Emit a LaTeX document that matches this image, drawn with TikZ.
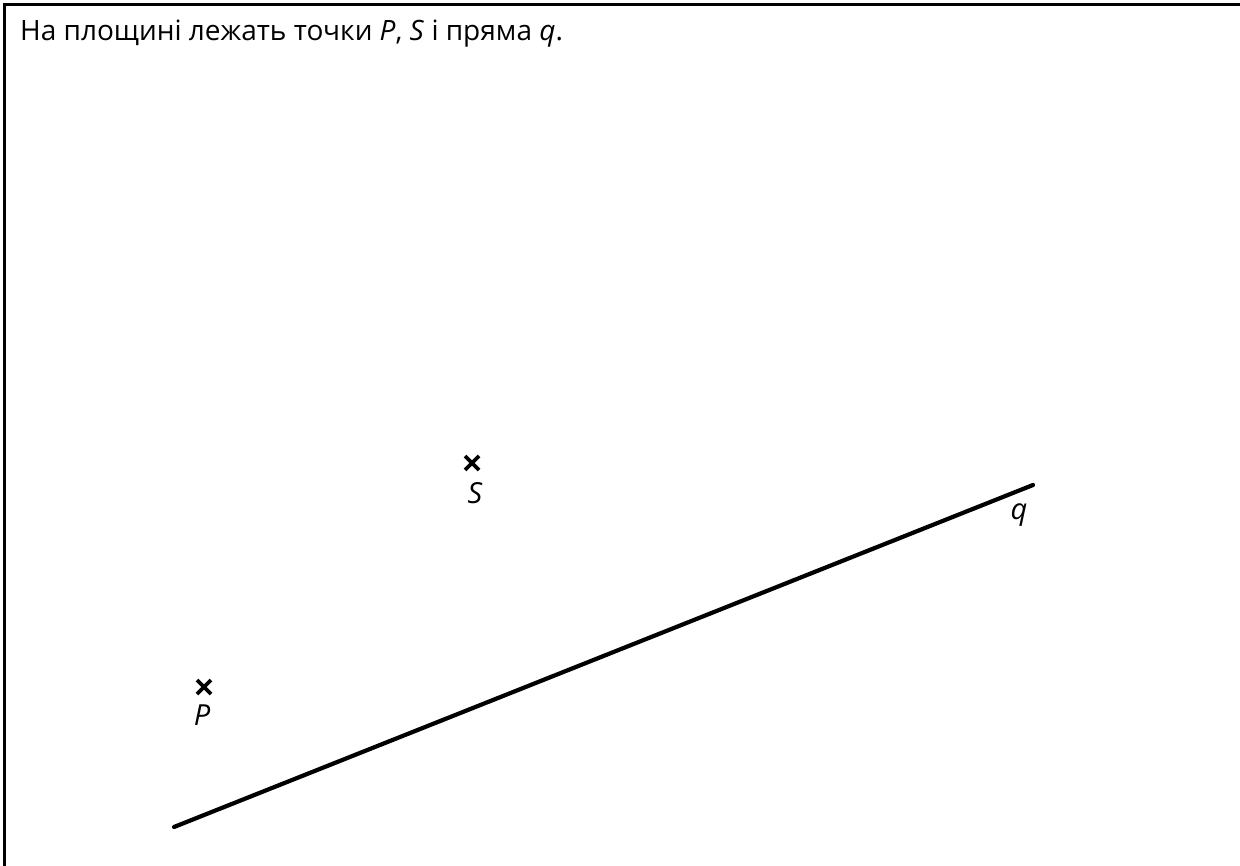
\documentclass[tikz,border=0pt]{standalone}
\usepackage{fontspec}
\setmainfont{Open Sans}
\begin{document}
\begin{tikzpicture}[x=1pt,y=-1pt,
  frame/.style={line width=3.2pt},
  qline/.style={line width=4.2pt,line cap=round},
  crossmark/.style={line width=3.6pt},
  lbl/.style={inner sep=0pt,anchor=base,font=\fontsize{29}{32}\selectfont\itshape},
  title/.style={inner sep=0pt,anchor=base west,font=\fontsize{28}{32}\selectfont}]
\useasboundingbox (0,0) rectangle (1240,866);
\draw[frame] (4.6,866) -- (4.6,4.6) -- (1240,4.6);
\node[title] (t) at (20,41) {На площині лежать точки \textit{P}, \textit{S} і пряма \textit{q}.};
\coordinate (q1) at (174,827);
\coordinate (q2) at (1033,485);
\draw[qline] (q1) -- (q2);
\coordinate (P) at (204,687);
\coordinate (S) at (472,463);
\draw[crossmark] ([shift={(-7,-7)}]P) -- ([shift={(7,7)}]P) ([shift={(-7,7)}]P) -- ([shift={(7,-7)}]P);
\draw[crossmark] ([shift={(-7,-7)}]S) -- ([shift={(7,7)}]S) ([shift={(-7,7)}]S) -- ([shift={(7,-7)}]S);
\node[lbl] (Pl) at (202,725) {P};
\node[lbl] (Sl) at (475,503) {S};
\node[lbl] (ql) at (1019,519) {q};
\end{tikzpicture}
\end{document}
